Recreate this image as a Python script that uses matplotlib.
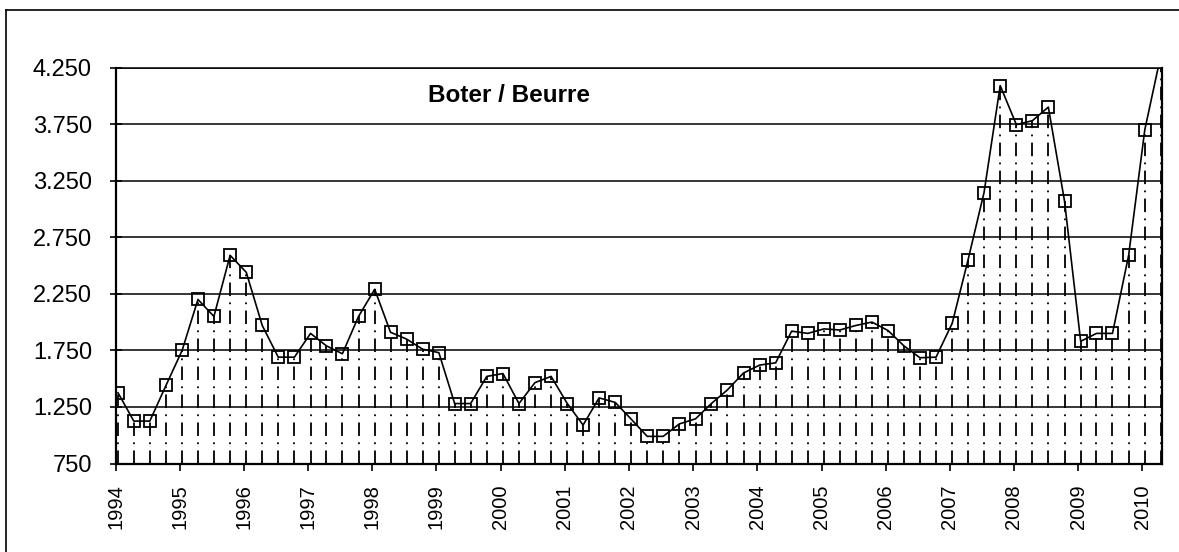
import pandas as pd
import numpy as np
import matplotlib
matplotlib.use("Agg")
import matplotlib.pyplot as plt
import matplotlib.dates as mdates
from matplotlib.lines import Line2D
from matplotlib.ticker import FuncFormatter

plt.rcParams["font.family"] = ["Liberation Sans", "DejaVu Sans"]

# quarterly butter prices
values = [1375, 1125, 1125, 1440, 1750, 2200, 2050, 2590, 2440, 1970,
          1690, 1690, 1900, 1790, 1720, 2050, 2290, 1910, 1850, 1760,
          1730, 1280, 1280, 1520, 1545, 1280, 1465, 1520, 1280, 1090,
          1330, 1290, 1140, 990, 990, 1100, 1145, 1280, 1400, 1550,
          1620, 1640, 1920, 1900, 1940, 1930, 1970, 2000, 1925, 1790,
          1685, 1690, 1990, 2550, 3145, 4090, 3745, 3780, 3900, 3070,
          1830, 1900, 1900, 2590, 3700, 4350]
dates = pd.date_range("1994-01-01", periods=len(values), freq="QS") + pd.Timedelta(days=14)
title = "Boter / Beurre"

ymin, ymax = 750, 4250
yticks = [750, 1250, 1750, 2250, 2750, 3250, 3750, 4250]

fig = plt.figure(figsize=(11.79, 5.52), dpi=100)
ax = fig.add_axes([0.098, 0.1603, 0.8876, 0.7174])

# outer chart border (left and top only visible)
fig.add_artist(Line2D([6 / 1179, 6 / 1179], [0, 1 - 10 / 552], color="black", lw=1.2))
fig.add_artist(Line2D([6 / 1179, 1], [1 - 10 / 552, 1 - 10 / 552], color="black", lw=1.2))

# horizontal grid
for yv in yticks:
    ax.axhline(yv, color="black", lw=1.1, zorder=1)

# drop lines
ax.vlines(dates, ymin, values, colors="black", lw=1.3,
          linestyles=[(0, (7.5, 3.5, 1, 3.5))], zorder=2)

ax.plot(dates, values, color="black", lw=1.2, marker="s", markersize=8.5,
        markerfacecolor="none", markeredgecolor="black", markeredgewidth=1.3,
        zorder=3)

ax.set_ylim(ymin, ymax)
ax.set_xlim(pd.Timestamp("1994-01-01"), pd.Timestamp("2010-04-23"))
ax.set_yticks(yticks)
ax.yaxis.set_major_formatter(FuncFormatter(lambda v, p: f"{v:,.0f}".replace(",", ".")))
ax.xaxis.set_major_locator(mdates.YearLocator())
ax.xaxis.set_major_formatter(mdates.DateFormatter("%Y"))

ax.tick_params(axis="y", direction="inout", length=8, width=1.2, pad=13,
               labelsize=17)
ax.tick_params(axis="x", direction="out", length=5, width=1.2, pad=10,
               labelsize=14.5, labelrotation=90)

for s in ["left", "right", "bottom"]:
    ax.spines[s].set_linewidth(1.6)
ax.spines["top"].set_linewidth(1.1)

ax.text(pd.Timestamp("1998-11-15"), 4000, title, fontsize=17.5,
        fontweight="bold", ha="left", va="center")

fig.savefig("out.png", dpi=100)
